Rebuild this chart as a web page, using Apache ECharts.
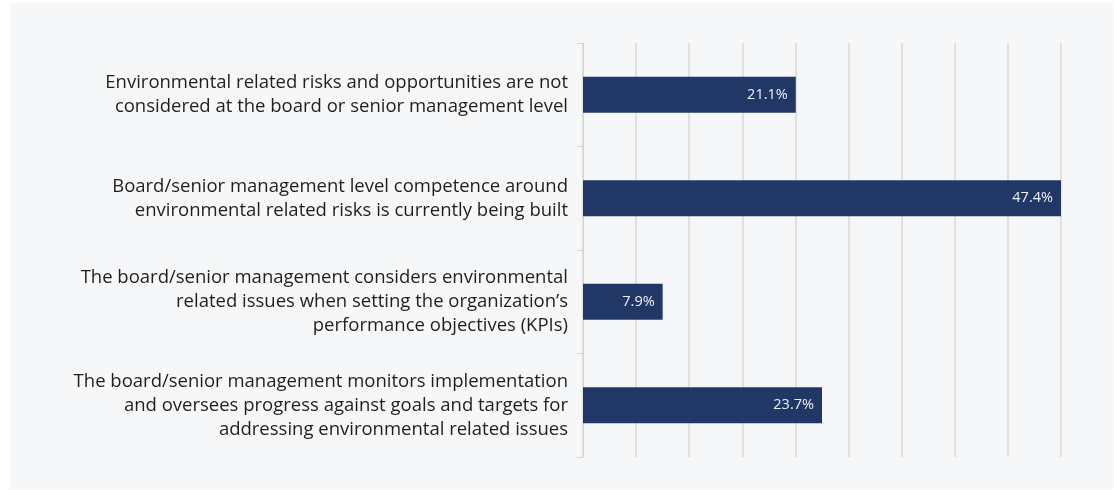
<!DOCTYPE html>
<html>
<head>
<meta charset="utf-8">
<script src="https://cdn.jsdelivr.net/npm/echarts@6/dist/echarts.min.js"></script>
<style>
  html, body { margin: 0; padding: 0; background: #fff; }
  #chart { width: 1114px; height: 490px; }
</style>
</head>
<body>
<div id="chart"></div>
<script>
  var categories = [
    'Environmental related risks and opportunities are not\nconsidered at the board or senior management level',
    'Board/senior management level competence around\nenvironmental related risks is currently being built',
    'The board/senior management considers environmental\nrelated issues when setting the organization\u2019s\nperformance objectives (KPIs)',
    'The board/senior management monitors implementation\nand oversees progress against goals and targets for\naddressing environmental related issues'
  ];
  var values = [21.1, 47.4, 7.9, 23.7];

  var axisMax = 47.4;
  var gridCount = 9;

  var myChart = echarts.init(document.getElementById('chart'));
  myChart.setOption({
    backgroundColor: '#fff',
    animation: false,
    graphic: [{
      type: 'rect',
      z: -10,
      shape: { x: 10, y: 3, width: 1103, height: 486 },
      style: { fill: '#f6f7f9' }
    }],
    grid: {
      left: 583,
      right: 53,
      top: 43,
      bottom: 33
    },
    xAxis: {
      type: 'value',
      min: 0,
      max: axisMax,
      interval: axisMax / gridCount,
      axisLabel: { show: false },
      axisLine: { show: false },
      axisTick: { show: false },
      splitLine: {
        show: true,
        lineStyle: { color: '#d9d9d9', width: 1.5 }
      }
    },
    yAxis: {
      type: 'category',
      inverse: true,
      data: categories,
      axisLine: {
        show: true,
        lineStyle: { color: '#d4d4d4', width: 1 }
      },
      axisTick: {
        show: true,
        length: 6,
        lineStyle: { color: '#d4d4d4' }
      },
      axisLabel: {
        margin: 15,
        fontFamily: 'Open Sans',
        fontSize: 18.5,
        lineHeight: 24,
        color: '#1f1f1f',
        align: 'right'
      }
    },
    series: [{
      type: 'bar',
      data: values,
      barWidth: 36,
      itemStyle: { color: '#213867' },
      label: {
        show: true,
        position: 'insideRight',
        distance: 8,
        fontFamily: 'Open Sans',
        fontSize: 14.5,
        color: '#eef0f4',
        formatter: function (p) {
          return p.value.toFixed(1) + '%';
        }
      }
    }]
  });
</script>
</body>
</html>
